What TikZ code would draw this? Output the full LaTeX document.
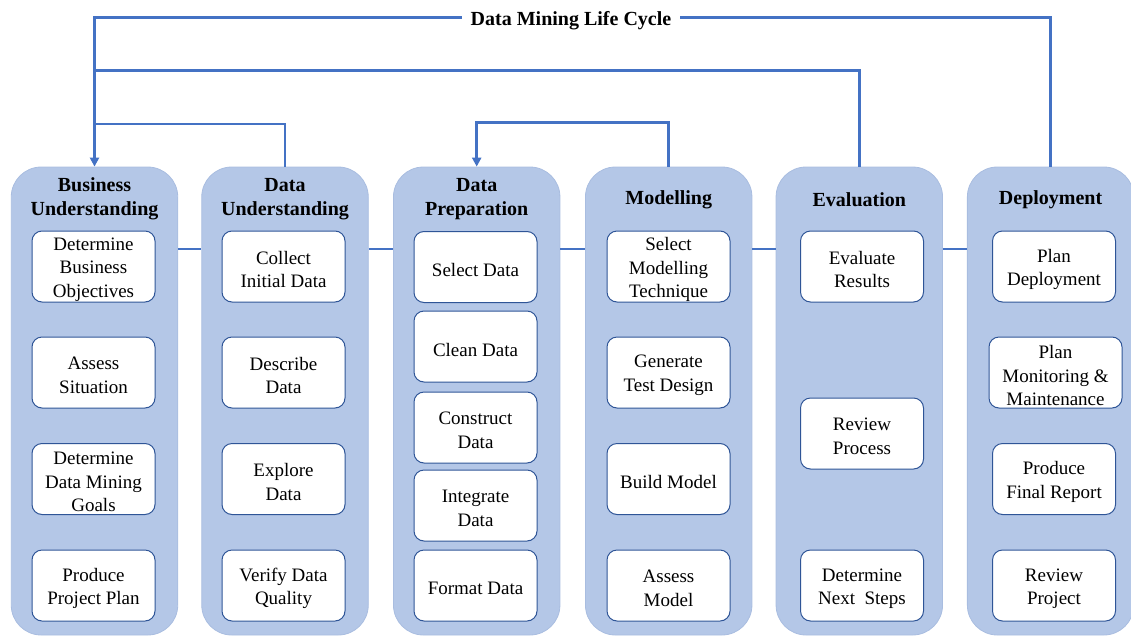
\documentclass[tikz,border=0pt]{standalone}
\usepackage{fontspec}
\setmainfont{Liberation Serif}
\usetikzlibrary{arrows.meta}
\definecolor{phasefill}{HTML}{B4C7E7}
\definecolor{phaseedge}{HTML}{A9BDE0}
\definecolor{taskedge}{HTML}{2F5597}
\definecolor{flowblue}{HTML}{4472C4}
\tikzset{
  phase/.style={rounded corners=30pt, fill=phasefill, draw=phaseedge, line width=0.8pt,
    minimum width=166.5pt, minimum height=468pt, inner sep=0pt},
  head/.style={font=\fontsize{20}{24}\selectfont\bfseries, align=center, inner sep=0pt},
  taskbox/.style={rounded corners=10pt, fill=white, draw=taskedge, line width=1pt,
    minimum width=123pt, minimum height=71pt, inner sep=0pt},
  tasktext/.style={inner sep=0pt, align=center, font=\fontsize{19}{23.5}\selectfont},
  flow/.style={draw=flowblue, line width=2.5pt},
  flowarrow/.style={flow, -{Triangle[length=9pt,width=9pt]}},
}
% a task: rounded white box with its label set slightly below the box centre
\newcommand{\tasknode}[4][]{%
  \node[taskbox,#1] (#2) at (#3) {};
  \node[tasktext] (#2-label) at ([yshift=-3pt]#2.center) {#4};}
\begin{document}
\begin{tikzpicture}[x=1pt,y=-1pt]
\useasboundingbox (0,0) rectangle (1131,637);

% phase columns
\node[phase] (c1) at (94.5,401) {};
\node[phase] (c2) at (285,401) {};
\node[phase] (c3) at (476.7,401) {};
\node[phase] (c4) at (668.7,401) {};
\node[phase] (c5) at (859.3,401) {};
\node[phase] (c6) at (1050.6,401) {};

% phase headings
\node[head] (h1) at (94.5,199) {Business\\Understanding};
\node[head] (h2) at (285,199) {Data\\Understanding};
\node[head] (h3) at (476.7,199) {Data\\Preparation};
\node[head] (h4) at (668.7,200) {Modelling};
\node[head] (h5) at (859.3,200) {Evaluation};
\node[head] (h6) at (1050.6,200) {Deployment};

% links between neighbouring phases
\coordinate (lvl) at (0,249);
\draw[flow] (c1.east |- lvl) -- (c2.west |- lvl);
\draw[flow] (c2.east |- lvl) -- (c3.west |- lvl);
\draw[flow] (c3.east |- lvl) -- (c4.west |- lvl);
\draw[flow] (c4.east |- lvl) -- (c5.west |- lvl);
\draw[flow] (c5.east |- lvl) -- (c6.west |- lvl);

% Business Understanding tasks
\tasknode{b1}{93.5,266.5}{Determine\\Business\\Objectives}
\tasknode{b2}{93.5,372.5}{Assess\\Situation}
\tasknode{b3}{93.5,479}{Determine\\Data Mining\\Goals}
\tasknode{b4}{93.5,585.5}{Produce\\Project Plan}

% Data Understanding tasks
\tasknode{u1}{283.5,266.5}{Collect\\Initial Data}
\tasknode{u2}{283.5,372.5}{Describe\\Data}
\tasknode{u3}{283.5,479}{Explore\\Data}
\tasknode{u4}{283.5,585.5}{Verify Data\\Quality}

% Data Preparation tasks
\tasknode{p1}{475.5,267}{Select Data}
\tasknode{p2}{475.5,346.5}{Clean Data}
\tasknode{p3}{475.5,427.5}{Construct\\Data}
\tasknode{p4}{475.5,505.5}{Integrate\\Data}
\tasknode{p5}{475.5,585.5}{Format Data}

% Modelling tasks
\tasknode{m1}{668.5,266.5}{Select\\Modelling\\Technique}
\tasknode{m2}{668.5,372.5}{Generate\\Test Design}
\tasknode{m3}{668.5,479}{Build Model}
\tasknode{m4}{668.5,585.5}{Assess\\Model}

% Evaluation tasks
\tasknode{e1}{862,266.5}{Evaluate\\Results}
\tasknode{e2}{862,433.5}{Review\\Process}
\tasknode{e3}{862,585.5}{Determine\\Next~ Steps}

% Deployment tasks
\tasknode{d1}{1054,266.5}{Plan\\Deployment}
\tasknode[minimum width=133pt]{d2}{1055.5,372.5}{Plan\\Monitoring \&\\Maintenance}
\tasknode{d3}{1054,479}{Produce\\Final Report}
\tasknode{d4}{1054,585.5}{Review\\Project}

% feedback loops over the top
\coordinate (t1) at (0,17.5);
\coordinate (t2) at (0,70.5);
\coordinate (t3) at (0,124);
\coordinate (t4) at (0,122.5);
\draw[flowarrow] (c6.north) -- (c6.north |- t1) -- (c1.north |- t1) -- (c1.north);
\draw[flow] (c5.north) -- (c5.north |- t2) -- (c1.north |- t2);
\draw[flow] (c2.north) -- (c2.north |- t3) -- (c1.north |- t3);
\draw[flowarrow] (c4.north) -- (c4.north |- t4) -- (c3.north |- t4) -- (c3.north);

\node[head, fill=white, inner xsep=9pt, inner ysep=2pt] (title) at (571,21) {Data Mining Life Cycle};
\end{tikzpicture}
\end{document}
